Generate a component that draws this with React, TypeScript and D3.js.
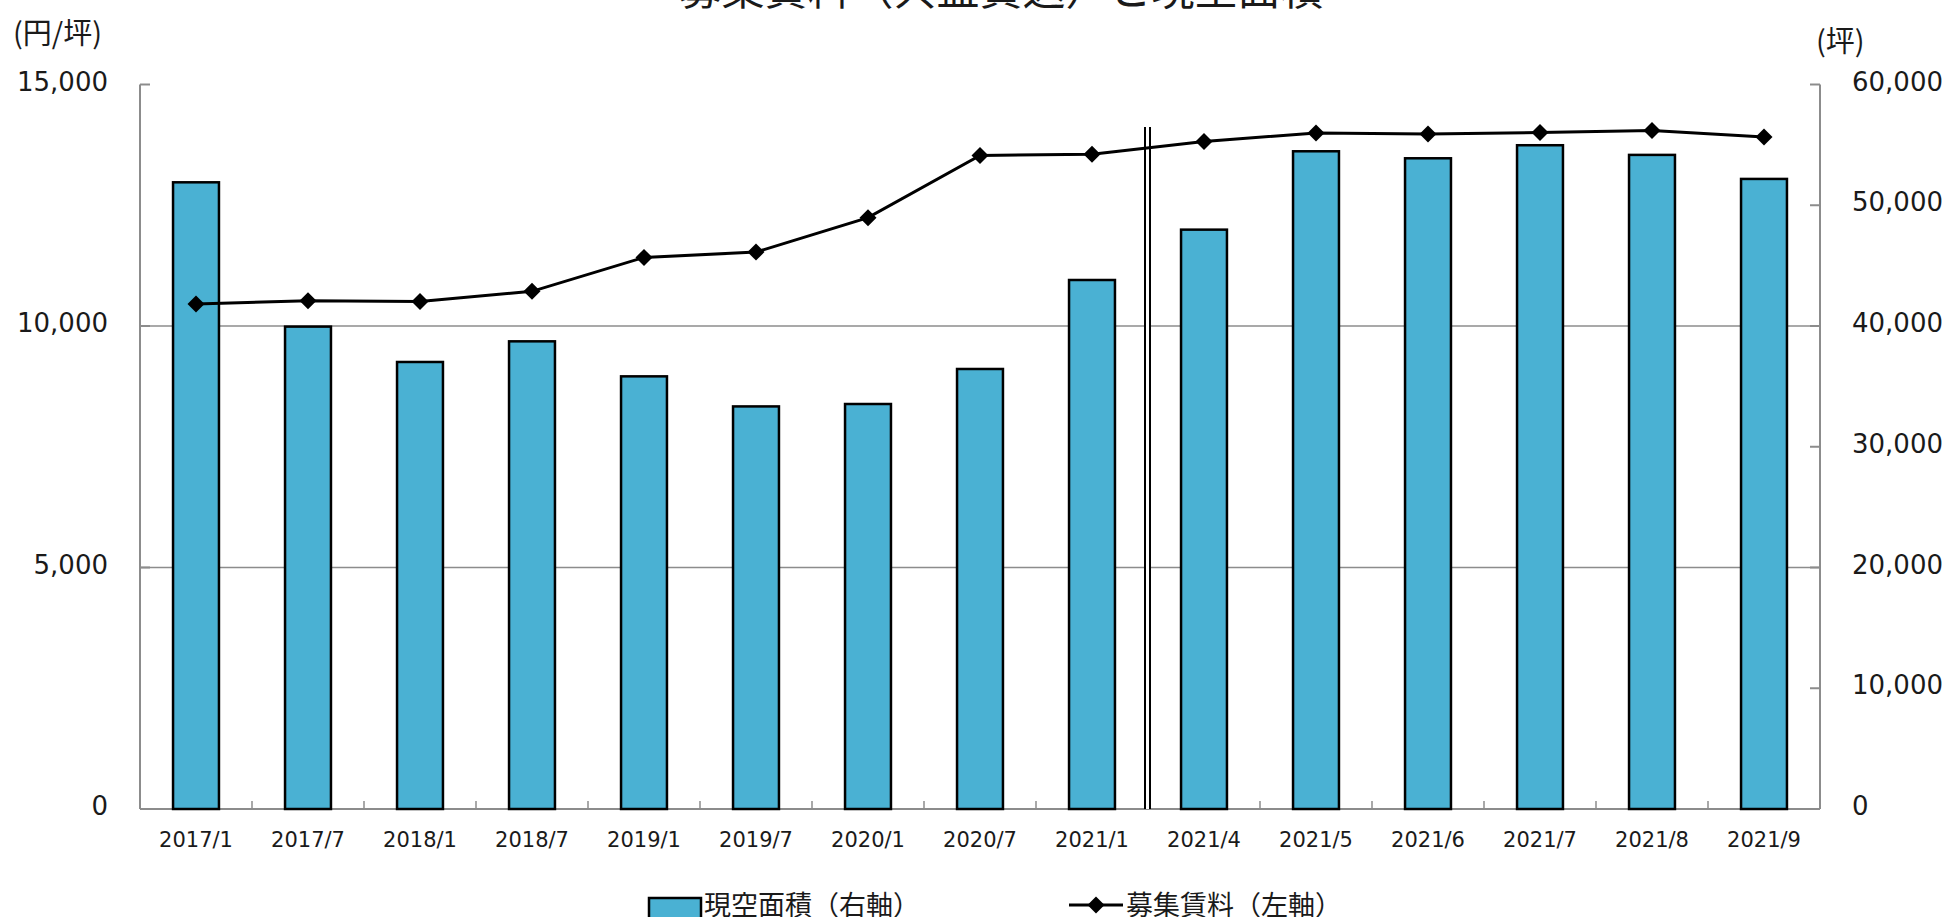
import { line, scaleBand, scaleLinear } from 'd3';

// 募集賃料（共益費込）と現空面積 — bars on the right axis, rent line on the left axis.

const categories = [
  '2017/1', '2017/7', '2018/1', '2018/7', '2019/1', '2019/7', '2020/1', '2020/7',
  '2021/1', '2021/4', '2021/5', '2021/6', '2021/7', '2021/8', '2021/9',
];
const vacantArea = [
  51900, 39950, 37020, 38730, 35830, 33340, 33540, 36440,
  43810, 47980, 54470, 53890, 54970, 54170, 52180,
];
const askingRent = [
  10455, 10525, 10505, 10718, 11420, 11530, 12243, 13532,
  13558, 13822, 13994, 13973, 14008, 14049, 13911,
];
const leftTicks = [0, 5000, 10000, 15000];
const rightTicks = [0, 10000, 20000, 30000, 40000, 50000, 60000];
const breakAfter = 8; // double line between 2021/1 and 2021/4

const W = 1953;
const H = 917;
const m = { left: 140, right: 1820, top: 84.5, bottom: 809 };
const NUM_FONT = '"DejaVu Sans", Verdana, sans-serif';
const JP_FONT = '"Noto Sans CJK JP", "Noto Sans", sans-serif';
const BAR = '#4ab1d3';
const GRID = '#8c8c8c';
const INK = '#1a1a1a';

const fmt = (v: number) => v.toLocaleString('en-US');

function Diamond({ x, y, r = 8.5 }: { x: number; y: number; r?: number }) {
  return <path d={`M${x},${y - r}L${x + r},${y}L${x},${y + r}L${x - r},${y}Z`} fill="#000" />;
}

export default function App() {
  const x = scaleBand<string>().domain(categories).range([m.left, m.right]).paddingInner(0.59).paddingOuter(0.295);
  const yl = scaleLinear().domain([0, 15000]).range([m.bottom, m.top]);
  const yr = scaleLinear().domain([0, 60000]).range([m.bottom, m.top]);
  const step = x.step();
  const cx = (c: string) => (x(c) ?? 0) + x.bandwidth() / 2;

  const ln = line<number>()
    .x((_d, i) => cx(categories[i]))
    .y((d) => yl(d));

  const breakX = m.left + step * (breakAfter + 1) - 0.5;

  return (
    <svg
      width={W}
      height={H}
      viewBox={`0 0 ${W} ${H}`}
      style={{ position: 'absolute', left: 0, top: 0, background: '#fff' }}
    >
      {/* title, cut off at the top as in the source */}
      <text x={1001} y={5} textAnchor="middle" fill={INK} style={{ fontFamily: JP_FONT, fontSize: 43 }}>
        募集賃料（共益費込）と現空面積
      </text>
      <text x={13} y={44} fill={INK} style={{ fontFamily: JP_FONT, fontSize: 29 }}>
        (円/坪)
      </text>
      <text x={1816} y={52} fill={INK} style={{ fontFamily: JP_FONT, fontSize: 29 }}>
        (坪)
      </text>

      {/* gridlines */}
      {leftTicks
        .filter((t) => t > 0 && t < 15000)
        .map((t) => (
          <line key={t} x1={m.left} x2={m.right} y1={yl(t)} y2={yl(t)} stroke={GRID} strokeWidth={1.5} />
        ))}

      {/* axes */}
      <line x1={m.left} x2={m.left} y1={m.top} y2={m.bottom} stroke={GRID} strokeWidth={2} />
      <line x1={m.right} x2={m.right} y1={m.top} y2={m.bottom} stroke={GRID} strokeWidth={2} />
      <line x1={m.left} x2={m.right} y1={m.bottom} y2={m.bottom} stroke={GRID} strokeWidth={2} />
      {leftTicks.map((t) => (
        <g key={t}>
          <line x1={m.left} x2={m.left + 10} y1={yl(t)} y2={yl(t)} stroke={GRID} strokeWidth={2} />
          <text x={108} y={yl(t) - 3} dy="0.35em" textAnchor="end" fill={INK} style={{ fontFamily: NUM_FONT, fontSize: 26 }}>
            {fmt(t)}
          </text>
        </g>
      ))}
      {rightTicks.map((t) => (
        <g key={t}>
          <line x1={m.right - 10} x2={m.right} y1={yr(t)} y2={yr(t)} stroke={GRID} strokeWidth={2} />
          <text x={1852} y={yr(t) - 3} dy="0.35em" textAnchor="start" fill={INK} style={{ fontFamily: NUM_FONT, fontSize: 26 }}>
            {fmt(t)}
          </text>
        </g>
      ))}
      {categories.slice(1).map((_c, i) => (
        <line
          key={i}
          x1={m.left + step * (i + 1)}
          x2={m.left + step * (i + 1)}
          y1={m.bottom}
          y2={m.bottom - 8}
          stroke={GRID}
          strokeWidth={1.5}
        />
      ))}
      {categories.map((c) => (
        <text key={c} x={cx(c)} y={847} textAnchor="middle" fill={INK} style={{ fontFamily: NUM_FONT, fontSize: 21 }}>
          {c}
        </text>
      ))}

      {/* bars */}
      {vacantArea.map((v, i) => (
        <rect
          key={i}
          x={x(categories[i])}
          y={yr(v)}
          width={x.bandwidth()}
          height={m.bottom - yr(v)}
          fill={BAR}
          stroke="#000"
          strokeWidth={2.5}
        />
      ))}

      {/* series break */}
      <rect x={breakX - 3} y={127} width={6} height={m.bottom - 127} fill="#fff" />
      <line x1={breakX - 2.5} x2={breakX - 2.5} y1={127} y2={m.bottom} stroke="#000" strokeWidth={2} />
      <line x1={breakX + 2.5} x2={breakX + 2.5} y1={127} y2={m.bottom} stroke="#000" strokeWidth={2} />

      {/* rent line */}
      <path d={ln(askingRent) ?? undefined} fill="none" stroke="#000" strokeWidth={3} />
      {askingRent.map((v, i) => (
        <Diamond key={i} x={cx(categories[i])} y={yl(v)} />
      ))}

      {/* legend, cut off at the bottom as in the source */}
      <rect x={649} y={898} width={52} height={26} fill={BAR} stroke="#000" strokeWidth={2.5} />
      <text x={704} y={915} fill={INK} style={{ fontFamily: JP_FONT, fontSize: 27 }}>
        現空面積（右軸）
      </text>
      <line x1={1069} x2={1123} y1={905} y2={905} stroke="#000" strokeWidth={3} />
      <Diamond x={1096} y={905} />
      <text x={1126} y={915} fill={INK} style={{ fontFamily: JP_FONT, fontSize: 27 }}>
        募集賃料（左軸）
      </text>
    </svg>
  );
}
